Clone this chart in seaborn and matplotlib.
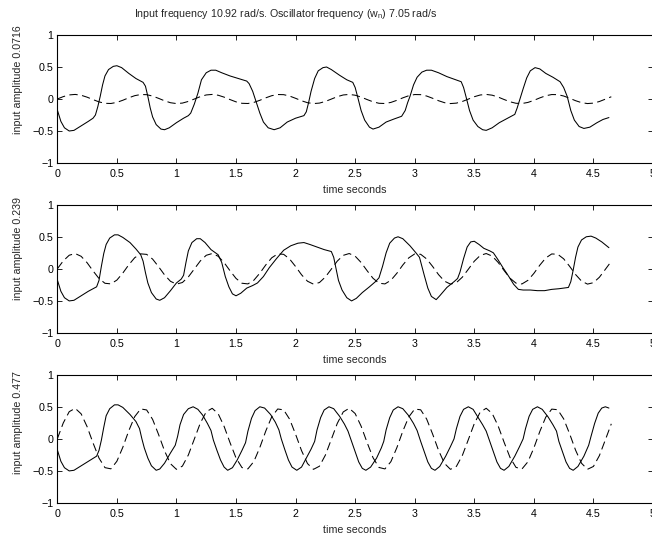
import numpy as np
import pandas as pd
import matplotlib
matplotlib.use("Agg")
import matplotlib.pyplot as plt
import seaborn as sns

# ---------------------------------------------------------------------------
# Driving input: normalised waveform sampled every 0.05 s, scaled per run
# ---------------------------------------------------------------------------
input_shape = [
    0.000, 0.519, 0.888, 0.998, 0.818, 0.400, -0.134, -0.629, -0.941, -0.980,
    -0.733, -0.274, 0.266, 0.728, 0.978, 0.944, 0.636, 0.142, -0.392, -0.813,
    -0.997, -0.891, -0.527, -0.008, 0.512, 0.884, 0.998, 0.823, 0.408, -0.126,
    -0.623, -0.939, -0.981, -0.739, -0.282, 0.257, 0.722, 0.976, 0.947, 0.642,
    0.151, -0.385, -0.808, -0.997, -0.895, -0.533, -0.017, 0.505, 0.880, 0.999,
    0.827, 0.415, -0.117, -0.616, -0.935, -0.983, -0.745, -0.289, 0.250, 0.716,
    0.974, 0.949, 0.648, 0.159, -0.377, -0.803, -0.996, -0.899, -0.540, -0.025,
    0.498, 0.876, 0.999, 0.832, 0.423, -0.109, -0.609, -0.932, -0.985, -0.750,
    -0.298, 0.241, 0.710, 0.972, 0.952, 0.655, 0.167, -0.369, -0.798, -0.995,
    -0.902, -0.548, -0.033, 0.491,
]
input_time = np.linspace(0.0, 4.65, len(input_shape))
amplitudes = [0.0716, 0.239, 0.477]

# ---------------------------------------------------------------------------
# Oscillator response for each input amplitude
# ---------------------------------------------------------------------------
resp_t_1 = [
    0.00, 0.03, 0.06, 0.10, 0.14, 0.20, 0.26, 0.30, 0.32, 0.34, 0.36, 0.38,
    0.40, 0.43, 0.47, 0.50, 0.54, 0.60, 0.66, 0.72, 0.74, 0.76, 0.78, 0.80,
    0.83, 0.87, 0.90, 0.94, 1.00, 1.06, 1.10, 1.12, 1.15, 1.18, 1.21, 1.25,
    1.29, 1.33, 1.38, 1.45, 1.52, 1.59, 1.61, 1.64, 1.67, 1.70, 1.73, 1.77,
    1.82, 1.87, 1.93, 2.00, 2.07, 2.09, 2.11, 2.13, 2.16, 2.19, 2.23, 2.26,
    2.30, 2.37, 2.43, 2.48, 2.50, 2.52, 2.55, 2.58, 2.62, 2.65, 2.70, 2.76,
    2.83, 2.89, 2.92, 2.94, 2.96, 2.99, 3.02, 3.06, 3.10, 3.14, 3.20, 3.27,
    3.33, 3.39, 3.41, 3.43, 3.46, 3.49, 3.53, 3.57, 3.60, 3.65, 3.71, 3.78,
    3.84, 3.86, 3.88, 3.91, 3.94, 3.97, 4.01, 4.05, 4.10, 4.16, 4.22, 4.25,
    4.28, 4.31, 4.34, 4.38, 4.42, 4.47, 4.53, 4.58, 4.63,
]
resp_v_1 = [
    -0.17, -0.35, -0.45, -0.50, -0.49, -0.42, -0.35, -0.30, -0.25, -0.12, 0.04, 0.22,
    0.36, 0.46, 0.51, 0.52, 0.49, 0.40, 0.32, 0.26, 0.20, 0.04, -0.14, -0.28,
    -0.40, -0.47, -0.48, -0.45, -0.37, -0.30, -0.26, -0.22, -0.08, 0.09, 0.30, 0.41,
    0.45, 0.45, 0.41, 0.36, 0.32, 0.28, 0.24, 0.12, -0.05, -0.22, -0.36, -0.45,
    -0.48, -0.45, -0.36, -0.30, -0.26, -0.20, -0.05, 0.12, 0.32, 0.44, 0.49, 0.50,
    0.46, 0.37, 0.30, 0.26, 0.18, 0.04, -0.18, -0.33, -0.44, -0.47, -0.44, -0.36,
    -0.31, -0.27, -0.18, -0.06, 0.04, 0.22, 0.34, 0.42, 0.45, 0.45, 0.41, 0.35,
    0.31, 0.27, 0.18, 0.04, -0.18, -0.33, -0.43, -0.48, -0.49, -0.45, -0.37, -0.30,
    -0.24, -0.14, -0.02, 0.16, 0.33, 0.44, 0.49, 0.47, 0.40, 0.34, 0.27, 0.18,
    0.04, -0.18, -0.33, -0.43, -0.46, -0.44, -0.37, -0.32, -0.29,
]

resp_t_2 = [
    0.00, 0.03, 0.06, 0.10, 0.14, 0.20, 0.26, 0.33, 0.35, 0.37, 0.39, 0.41,
    0.44, 0.48, 0.51, 0.55, 0.61, 0.66, 0.70, 0.72, 0.74, 0.76, 0.79, 0.83,
    0.86, 0.90, 0.95, 1.00, 1.04, 1.06, 1.08, 1.10, 1.13, 1.17, 1.20, 1.24,
    1.29, 1.35, 1.38, 1.41, 1.44, 1.47, 1.50, 1.54, 1.59, 1.64, 1.68, 1.73,
    1.78, 1.84, 1.90, 1.96, 2.02, 2.07, 2.12, 2.18, 2.24, 2.30, 2.32, 2.34,
    2.36, 2.39, 2.43, 2.47, 2.51, 2.56, 2.62, 2.67, 2.70, 2.73, 2.76, 2.79,
    2.83, 2.86, 2.90, 2.96, 3.01, 3.04, 3.06, 3.08, 3.11, 3.14, 3.18, 3.21,
    3.27, 3.33, 3.36, 3.38, 3.41, 3.44, 3.47, 3.50, 3.54, 3.58, 3.63, 3.66,
    3.70, 3.74, 3.79, 3.83, 3.87, 3.91, 3.97, 4.03, 4.09, 4.15, 4.21, 4.29,
    4.31, 4.33, 4.35, 4.37, 4.40, 4.44, 4.48, 4.52, 4.57, 4.63,
]
resp_v_2 = [
    -0.17, -0.35, -0.45, -0.50, -0.49, -0.42, -0.35, -0.28, -0.18, 0.04, 0.24, 0.38,
    0.48, 0.53, 0.53, 0.49, 0.41, 0.31, 0.22, 0.12, -0.06, -0.22, -0.37, -0.47,
    -0.49, -0.45, -0.34, -0.22, -0.16, -0.10, 0.10, 0.28, 0.41, 0.47, 0.47, 0.41,
    0.30, 0.22, 0.10, -0.12, -0.28, -0.39, -0.42, -0.38, -0.30, -0.26, -0.22, -0.12,
    0.02, 0.16, 0.29, 0.36, 0.40, 0.41, 0.38, 0.34, 0.30, 0.27, 0.18, 0.00,
    -0.18, -0.33, -0.45, -0.50, -0.46, -0.37, -0.28, -0.20, -0.14, 0.04, 0.25, 0.40,
    0.48, 0.50, 0.47, 0.36, 0.25, 0.18, 0.04, -0.10, -0.30, -0.43, -0.48, -0.42,
    -0.29, -0.20, -0.15, -0.05, 0.16, 0.34, 0.42, 0.43, 0.38, 0.32, 0.28, 0.25,
    0.14, 0.02, -0.12, -0.24, -0.32, -0.33, -0.33, -0.34, -0.34, -0.32, -0.31, -0.29,
    -0.20, -0.02, 0.18, 0.34, 0.45, 0.50, 0.51, 0.48, 0.42, 0.33,
]

resp_t_3 = [
    0.00, 0.03, 0.06, 0.10, 0.14, 0.20, 0.27, 0.33, 0.35, 0.37, 0.39, 0.41,
    0.44, 0.48, 0.51, 0.55, 0.61, 0.66, 0.69, 0.71, 0.73, 0.76, 0.79, 0.83,
    0.86, 0.90, 0.95, 0.99, 1.01, 1.03, 1.06, 1.10, 1.14, 1.18, 1.22, 1.26,
    1.29, 1.31, 1.34, 1.37, 1.40, 1.43, 1.47, 1.51, 1.55, 1.58, 1.60, 1.63,
    1.66, 1.70, 1.74, 1.79, 1.83, 1.86, 1.88, 1.91, 1.94, 1.97, 2.01, 2.05,
    2.09, 2.13, 2.16, 2.18, 2.21, 2.24, 2.28, 2.32, 2.37, 2.41, 2.44, 2.47,
    2.50, 2.53, 2.56, 2.59, 2.63, 2.68, 2.72, 2.74, 2.76, 2.79, 2.82, 2.86,
    2.90, 2.95, 2.99, 3.02, 3.05, 3.08, 3.11, 3.14, 3.17, 3.21, 3.26, 3.30,
    3.33, 3.35, 3.38, 3.41, 3.45, 3.49, 3.53, 3.57, 3.60, 3.63, 3.66, 3.69,
    3.72, 3.75, 3.79, 3.84, 3.88, 3.91, 3.93, 3.96, 3.99, 4.03, 4.07, 4.12,
    4.16, 4.19, 4.21, 4.24, 4.27, 4.30, 4.33, 4.37, 4.42, 4.46, 4.48, 4.51,
    4.54, 4.57, 4.60, 4.63,
]
resp_v_3 = [
    -0.17, -0.35, -0.45, -0.50, -0.49, -0.42, -0.34, -0.27, -0.18, -0.02, 0.18, 0.36,
    0.47, 0.53, 0.53, 0.49, 0.38, 0.27, 0.16, 0.00, -0.14, -0.30, -0.42, -0.49,
    -0.47, -0.38, -0.22, -0.10, 0.04, 0.22, 0.38, 0.47, 0.50, 0.46, 0.37, 0.24,
    0.13, -0.02, -0.18, -0.33, -0.44, -0.49, -0.45, -0.33, -0.18, -0.06, 0.12, 0.32,
    0.44, 0.50, 0.48, 0.38, 0.26, 0.14, 0.00, -0.17, -0.33, -0.44, -0.49, -0.44,
    -0.30, -0.16, -0.04, 0.14, 0.33, 0.45, 0.50, 0.47, 0.35, 0.23, 0.12, -0.04,
    -0.20, -0.36, -0.46, -0.49, -0.44, -0.30, -0.14, -0.04, 0.14, 0.33, 0.45, 0.50,
    0.47, 0.36, 0.24, 0.13, -0.04, -0.20, -0.36, -0.46, -0.49, -0.43, -0.27, -0.12,
    0.00, 0.16, 0.35, 0.46, 0.50, 0.46, 0.34, 0.22, 0.12, -0.04, -0.20, -0.36,
    -0.46, -0.49, -0.43, -0.27, -0.12, 0.00, 0.16, 0.35, 0.46, 0.50, 0.46, 0.34,
    0.22, 0.12, -0.04, -0.20, -0.36, -0.46, -0.49, -0.43, -0.27, -0.10, 0.04, 0.24,
    0.40, 0.48, 0.50, 0.48,
]

responses = [(resp_t_1, resp_v_1), (resp_t_2, resp_v_2), (resp_t_3, resp_v_3)]

x_ticks = [0, 0.5, 1, 1.5, 2, 2.5, 3, 3.5, 4, 4.5, 5]
y_ticks = [-1, -0.5, 0, 0.5, 1]
title_text = r"Input frequency 10.92 rad/s. Oscillator frequency (w$_{\mathrm{n}}$) 7.05 rad/s"

# ---------------------------------------------------------------------------
# Styling
# ---------------------------------------------------------------------------
sns.set_style("ticks", {"xtick.direction": "in", "ytick.direction": "in"})
plt.rcParams["font.family"] = ["Liberation Sans", "DejaVu Sans"]
plt.rcParams["mathtext.fontset"] = "custom"
plt.rcParams["mathtext.rm"] = "Liberation Sans"
plt.rcParams["mathtext.it"] = "Liberation Sans:italic"
plt.rcParams["lines.scale_dashes"] = False
plt.rcParams["axes.unicode_minus"] = True

FS = 7.7
fig = plt.figure(figsize=(6.52, 5.39), dpi=100)
W, H = 652.0, 539.0

# axes boxes in pixels: (left, top, right, bottom)
boxes = [(57.3, 35.0, 653.0, 163.0),
         (57.3, 204.7, 653.0, 333.0),
         (57.3, 374.7, 653.0, 503.0)]
ylabel_y = [0.655, 0.660, 0.627]

for i, (box, amp) in enumerate(zip(boxes, amplitudes)):
    l, t, r, b = box
    ax = fig.add_axes([l / W, 1 - b / H, (r - l) / W, (b - t) / H])

    drive = pd.DataFrame({"time": input_time,
                          "value": amp * np.asarray(input_shape)})
    rt, rv = responses[i]
    resp = pd.DataFrame({"time": rt, "value": rv})

    sns.lineplot(data=resp, x="time", y="value", ax=ax, color="black",
                 linewidth=0.75, sort=False, estimator=None)
    sns.lineplot(data=drive, x="time", y="value", ax=ax, color="black",
                 linewidth=0.75, sort=False, estimator=None,
                 linestyle=(0, (6, 3.2)))

    ax.set_xlim(0, 5)
    ax.set_ylim(-1, 1)
    ax.set_xticks(x_ticks)
    ax.set_xticklabels([f"{v:g}" for v in x_ticks])
    ax.set_yticks(y_ticks)
    ax.set_yticklabels([f"{v:g}".replace("-", "\u2212") for v in y_ticks])
    ax.tick_params(axis="both", which="major", direction="in", top=True,
                   right=True, length=3.6, width=0.6, labelsize=FS,
                   colors="black")
    ax.tick_params(axis="x", pad=4.2)
    ax.tick_params(axis="y", pad=3.0)
    for sp in ax.spines.values():
        sp.set_visible(True)
        sp.set_linewidth(0.8)
        sp.set_color("black")

    ax.set_xlabel("time seconds", fontsize=FS)
    ax.set_ylabel(f"input amplitude {amp:g}", fontsize=FS)
    ax.xaxis.set_label_coords(0.5, -0.172)
    ax.yaxis.set_label_coords(-0.0575, ylabel_y[i])

fig.text(286 / W, 1 - 14 / H, title_text, ha="center", va="center",
         fontsize=FS)

fig.savefig("out.png", dpi=100)
